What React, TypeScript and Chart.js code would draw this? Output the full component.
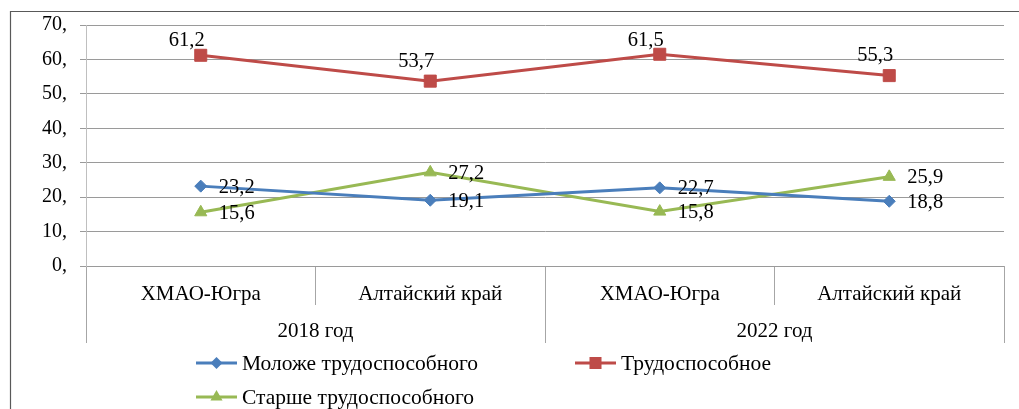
import React, { useEffect, useRef } from 'react';
import { Chart, registerables } from 'chart.js';

Chart.register(...registerables);

// ---- data ----
const categories = ['ХМАО-Югра', 'Алтайский край', 'ХМАО-Югра', 'Алтайский край'];
const groups = ['2018 год', '2022 год'];
const seriesNames = ['Моложе трудоспособного', 'Трудоспособное', 'Старше трудоспособного'];
const younger = [23.2, 19.1, 22.7, 18.8];
const working = [61.2, 53.7, 61.5, 55.3];
const older = [15.6, 27.2, 15.8, 25.9];
const yMin = 0;
const yMax = 70;
const yStep = 10;

const FONT = '"Liberation Serif", "Times New Roman", serif';

const BLUE = '#4A7EBB';
const RED = '#BE4B48';
const GREEN = '#98B954';

function drawMarker(ctx: CanvasRenderingContext2D, style: string, x: number, y: number, r: number) {
  ctx.beginPath();
  if (style === 'rectRot') {
    ctx.moveTo(x, y - r);
    ctx.lineTo(x + r, y);
    ctx.lineTo(x, y + r);
    ctx.lineTo(x - r, y);
  } else if (style === 'rect') {
    const s = Math.SQRT1_2 * r;
    ctx.rect(x - s, y - s, 2 * s, 2 * s);
  } else {
    ctx.moveTo(x, y - r);
    ctx.lineTo(x + 0.866 * r, y + 0.5 * r);
    ctx.lineTo(x - 0.866 * r, y + 0.5 * r);
  }
  ctx.closePath();
  ctx.fill();
}

const frame = {
  id: 'frame',
  beforeDraw(chart: any) {
    const ctx = chart.ctx as CanvasRenderingContext2D;
    ctx.save();
    ctx.fillStyle = '#fff';
    ctx.fillRect(0, 0, chart.width, chart.height);
    ctx.strokeStyle = '#595959';
    ctx.lineWidth = 1.2;
    ctx.beginPath();
    ctx.moveTo(10.5, chart.height);
    ctx.lineTo(10.5, 11.5);
    ctx.lineTo(chart.width, 11.5);
    ctx.stroke();
    ctx.restore();
  },
};

const dataLabels = {
  id: 'dataLabels',
  afterDatasetsDraw(chart: any) {
    const ctx = chart.ctx as CanvasRenderingContext2D;
    ctx.save();
    ctx.font = `20.5px ${FONT}`;
    ctx.fillStyle = '#000';
    ctx.textBaseline = 'middle';
    chart.data.datasets.forEach((ds: any, i: number) => {
      const meta = chart.getDatasetMeta(i);
      meta.data.forEach((pt: any, j: number) => {
        const v = ds.data[j] as number;
        const txt = v.toFixed(1).replace('.', ',');
        if (ds.labelPlace === 'above') {
          ctx.textAlign = 'center';
          const y = Math.max(pt.y - 20, chart.chartArea.top + 16);
          ctx.fillText(txt, pt.x - 14, y);
        } else {
          ctx.textAlign = 'left';
          ctx.fillText(txt, pt.x + 18, pt.y + 1);
        }
      });
    });
    ctx.restore();
  },
};

const legendSlots = [
  { x: 196, y: 363 },
  { x: 575, y: 363 },
  { x: 196, y: 397 },
];

const customLegend = {
  id: 'customLegend',
  afterDraw(chart: any) {
    const ctx = chart.ctx as CanvasRenderingContext2D;
    ctx.save();
    chart.data.datasets.forEach((ds: any, i: number) => {
      const slot = legendSlots[i];
      if (!slot) return;
      ctx.strokeStyle = ds.borderColor;
      ctx.lineWidth = 3;
      ctx.beginPath();
      ctx.moveTo(slot.x, slot.y);
      ctx.lineTo(slot.x + 41, slot.y);
      ctx.stroke();
      ctx.fillStyle = ds.backgroundColor;
      drawMarker(ctx, ds.pointStyle, slot.x + 20.5, slot.y, ds.pointRadius);
      ctx.fillStyle = '#000';
      ctx.font = `21.5px ${FONT}`;
      ctx.textAlign = 'left';
      ctx.textBaseline = 'middle';
      ctx.fillText(ds.label, slot.x + 46, slot.y + 1);
    });
    ctx.restore();
  },
};

export default function App() {
  const ref = useRef<HTMLCanvasElement | null>(null);

  useEffect(() => {
    document.body.style.margin = '0';
    document.body.style.overflow = 'hidden';
    if (!ref.current) return;
    const font = { family: FONT, size: 20 };
    const catFont = { family: FONT, size: 21 };
    const chart = new Chart(ref.current, {
      type: 'line',
      data: {
        labels: categories,
        datasets: [
          {
            label: seriesNames[0],
            data: younger,
            borderColor: BLUE,
            backgroundColor: BLUE,
            borderWidth: 3,
            pointStyle: 'rectRot',
            pointRadius: 6,
            pointBorderWidth: 1,
            labelPlace: 'right',
          } as any,
          {
            label: seriesNames[1],
            data: working,
            borderColor: RED,
            backgroundColor: RED,
            borderWidth: 3,
            pointStyle: 'rect',
            pointRadius: 8.5,
            pointBorderWidth: 1,
            labelPlace: 'above',
          } as any,
          {
            label: seriesNames[2],
            data: older,
            borderColor: GREEN,
            backgroundColor: GREEN,
            borderWidth: 3,
            pointStyle: 'triangle',
            pointRadius: 7,
            pointBorderWidth: 1,
            labelPlace: 'right',
          } as any,
        ],
      },
      options: {
        responsive: false,
        animation: false,
        devicePixelRatio: 1,
        layout: { padding: { left: 0, right: 15, top: 24, bottom: 66 } },
        plugins: {
          legend: { display: false },
          tooltip: { enabled: false },
        },
        scales: {
          x: {
            type: 'category',
            position: 'bottom',
            offset: true,
            weight: 1,
            grid: {
              display: true,
              offset: true,
              drawOnChartArea: false,
              drawTicks: true,
              tickLength: 39,
              color: '#a6a6a6',
              lineWidth: 1,
            },
            border: { display: false },
            ticks: { font: catFont, color: '#000', padding: -23, maxRotation: 0, autoSkip: false },
            afterFit: (s: any) => {
              s.height = 39;
            },
          },
          x2: {
            type: 'category',
            position: 'bottom',
            labels: groups,
            offset: true,
            weight: 2,
            grid: {
              display: true,
              offset: true,
              drawOnChartArea: false,
              drawTicks: true,
              tickLength: 38,
              color: '#a6a6a6',
              lineWidth: 1,
            },
            border: { display: false },
            ticks: { font: catFont, color: '#000', padding: -24, maxRotation: 0, autoSkip: false },
            afterFit: (s: any) => {
              s.height = 38;
            },
          },
          y: {
            min: yMin,
            max: yMax,
            ticks: {
              stepSize: yStep,
              font,
              color: '#000',
              padding: 13,
              callback: (v: any) => `${v},`,
            },
            grid: { color: '#9a9a9a', lineWidth: 1, tickLength: 6, drawTicks: true },
            border: { display: true, color: '#bfbfbf', width: 1 },
            afterFit: (s: any) => {
              s.width = 86;
            },
          },
        } as any,
      },
      plugins: [frame, dataLabels, customLegend],
    });
    return () => chart.destroy();
  }, []);

  return (
    <div style={{ width: 1019, height: 409 }}>
      <canvas ref={ref} width={1019} height={409} style={{ display: 'block' }} />
    </div>
  );
}
